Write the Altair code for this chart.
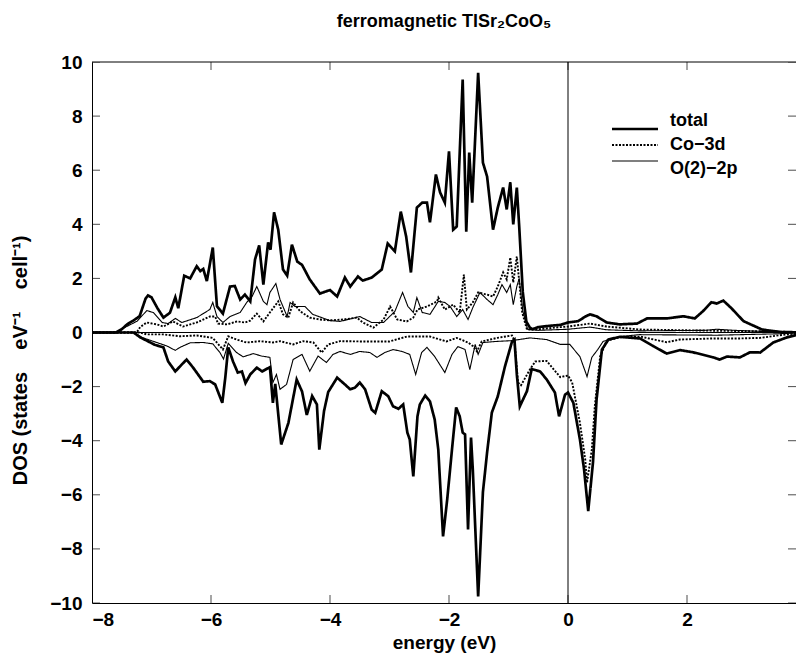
import altair as alt
import pandas as pd

# ---------------- data ----------------
total_up_e = [-8.0, -7.6, -7.5, -7.41, -7.3, -7.2, -7.1, -7.06, -7.0, -6.9, -6.8, -6.69, -6.6, -6.55, -6.45,
              -6.35, -6.24, -6.18, -6.13, -6.07, -5.97, -5.9, -5.8, -5.68, -5.6, -5.51, -5.43, -5.34, -5.26,
              -5.19, -5.12, -5.04, -5.0, -4.94, -4.87, -4.79, -4.72, -4.64, -4.55, -4.47, -4.34, -4.17, -4.0,
              -3.88, -3.75, -3.66, -3.53, -3.45, -3.3, -3.13, -3.03, -2.91, -2.81, -2.72, -2.64, -2.54, -2.45,
              -2.37, -2.32, -2.22, -2.15, -2.07, -2.0, -1.93, -1.87, -1.77, -1.71, -1.66, -1.61, -1.51, -1.43,
              -1.36, -1.26, -1.18, -1.09, -1.03, -0.97, -0.92, -0.86, -0.82, -0.76, -0.7, -0.64, -0.6, -0.5,
              -0.3, -0.13, 0.0, 0.17, 0.3, 0.37, 0.48, 0.65, 0.87, 1.16, 1.33, 1.66, 1.94, 2.13, 2.27, 2.41,
              2.5, 2.61, 2.75, 2.95, 3.26, 3.56, 4.0]
total_up_d = [0.0, 0.0, 0.12, 0.3, 0.45, 0.6, 1.25, 1.37, 1.3, 0.9, 0.55, 0.73, 1.3, 0.9, 2.1,
              2.0, 2.45, 2.27, 2.35, 1.9, 3.14, 0.97, 0.7, 1.7, 1.72, 1.22, 1.4, 1.15, 2.7,
              3.22, 1.77, 3.33, 3.06, 4.44, 3.8, 2.33, 2.1, 3.25, 2.62, 2.5, 1.96, 1.44, 1.57,
              1.33, 2.03, 1.7, 2.07, 1.92, 2.03, 2.33, 3.29, 3.0, 4.47, 3.55, 2.22, 4.62, 4.8,
              4.8, 4.07, 5.84, 5.18, 4.8, 6.7, 3.8, 3.92, 9.35, 3.73, 6.65, 4.8, 9.6, 6.28,
              5.77, 3.8, 4.62, 5.36, 4.55, 5.55, 4.0, 5.36, 3.92, 1.5, 0.4, 0.18, 0.12, 0.2,
              0.25, 0.28, 0.37, 0.42, 0.6, 0.67, 0.6, 0.37, 0.3, 0.33, 0.52, 0.52, 0.6, 0.52, 0.79, 1.12,
              1.07, 1.18, 0.89, 0.42, 0.11, 0.02, 0.0]

total_dn_e = [-8.0, -7.3, -7.19, -7.08, -6.95, -6.8, -6.72, -6.6, -6.49, -6.41, -6.3, -6.13, -6.02, -5.93,
              -5.81, -5.76, -5.71, -5.63, -5.55, -5.48, -5.42, -5.34, -5.23, -5.14, -5.01, -4.96, -4.92,
              -4.82, -4.7, -4.56, -4.47, -4.39, -4.3, -4.22, -4.18, -4.1, -4.03, -3.88, -3.75, -3.66, -3.58,
              -3.5, -3.41, -3.3, -3.24, -3.13, -3.02, -2.94, -2.85, -2.77, -2.7, -2.66, -2.6, -2.53, -2.49,
              -2.4, -2.32, -2.24, -2.18, -2.1, -2.03, -1.95, -1.88, -1.82, -1.77, -1.73, -1.68, -1.63, -1.6,
              -1.51, -1.43, -1.36, -1.28, -1.18, -1.06, -0.94, -0.9, -0.86, -0.81, -0.69, -0.61, -0.47,
              -0.36, -0.22, -0.15, -0.05, 0.0, 0.09, 0.2, 0.27, 0.34, 0.42, 0.48, 0.57, 0.68, 0.87, 1.21,
              1.43, 1.66, 1.88, 2.1, 2.44, 2.55, 2.67, 2.89, 3.06, 3.23, 3.45, 3.68, 4.0]
total_dn_d = [0.0, 0.0, -0.18, -0.3, -0.45, -0.55, -1.07, -1.44, -1.18, -1.0, -1.3, -1.82, -1.8, -1.92,
              -2.6, -1.67, -0.55, -1.07, -1.48, -1.44, -1.87, -1.55, -1.3, -1.44, -1.28, -2.6, -1.9,
              -4.14, -3.35, -1.74, -2.18, -3.05, -2.35, -2.66, -4.33, -2.9, -2.2, -1.67, -1.92, -2.1, -2.04,
              -1.85, -2.1, -2.85, -2.97, -2.17, -2.36, -2.73, -2.82, -2.66, -3.7, -3.95, -5.32, -3.1, -2.66,
              -2.33, -2.55, -3.22, -4.33, -7.54, -6.17, -4.33, -2.77, -3.1, -3.7, -3.77, -7.28, -3.88, -5.06,
              -9.76, -5.9, -4.44, -2.96, -2.36, -1.26, -0.33, -0.26, -1.55, -2.73, -2.17, -1.35, -1.44,
              -1.73, -2.22, -3.1, -2.3, -2.22, -2.6, -3.95, -5.06, -6.6, -4.8, -2.48, -0.63, -0.26, -0.16, -0.22,
              -0.5, -0.78, -0.65, -0.73, -0.92, -1.0, -0.89, -0.92, -0.73, -0.74, -0.37, -0.18, 0.0]

co_up_e = [-8.0, -7.25, -7.19, -7.08, -6.91, -6.8, -6.64, -6.47, -6.24, -6.02, -5.93, -5.88, -5.73, -5.56,
           -5.43, -5.34, -5.23, -5.12, -5.01, -4.87, -4.79, -4.7, -4.62, -4.5, -4.34, -4.17, -4.0, -3.78,
           -3.55, -3.45, -3.27, -3.1, -2.99, -2.87, -2.71, -2.6, -2.53, -2.37, -2.2, -2.18, -2.07, -1.93,
           -1.82, -1.75, -1.7, -1.6, -1.51, -1.36, -1.26, -1.18, -1.09, -1.03, -0.97, -0.92, -0.86, -0.77,
           -0.69, -0.5, -0.13, 0.0, 0.37, 0.65, 1.21, 2.33, 3.45, 4.0]
co_up_d = [0.0, 0.0, 0.2, 0.37, 0.3, 0.22, 0.41, 0.22, 0.37, 0.59, 0.59, 0.33, 0.3, 0.41,
           0.37, 0.44, 0.7, 0.41, 0.74, 1.15, 0.67, 0.55, 1.11, 0.78, 0.55, 0.48, 0.45, 0.48,
           0.55, 0.37, 0.18, 0.48, 0.96, 0.48, 0.41, 0.55, 0.85, 0.96, 1.15, 1.29, 0.85, 1.03,
           0.74, 2.14, 0.85, 1.11, 1.48, 1.4, 1.33, 1.7, 2.22, 1.96, 2.77, 1.85, 2.81, 0.74,
           0.11, 0.12, 0.2, 0.22, 0.33, 0.22, 0.11, 0.07, 0.04, 0.0]

co_dn_e = [-8.0, -7.2, -7.08, -6.8, -6.52, -6.24, -5.97, -5.8, -5.71, -5.57, -5.4, -5.18, -4.96, -4.84,
           -4.62, -4.45, -4.28, -4.14, -4.03, -3.83, -3.5, -3.0, -2.71, -2.32, -2.04, -1.87, -1.68, -1.6,
           -1.53, -1.45, -1.19, -0.94, -0.9, -0.84, -0.79, -0.64, -0.55, -0.36, -0.13, 0.0, 0.07, 0.2,
           0.29, 0.32, 0.4, 0.45, 0.54, 0.65, 0.87, 1.21, 1.66, 1.88, 2.44, 2.89, 3.23, 3.56, 4.0]
co_dn_d = [0.0, 0.0, -0.07, -0.07, -0.14, -0.11, -0.2, -0.63, -0.14, -0.26, -0.37, -0.32, -0.37, -0.32,
           -0.44, -0.32, -0.37, -0.74, -0.44, -0.32, -0.33, -0.33, -0.15, -0.15, -0.33, -0.2, -0.37, -0.5,
           -0.7, -0.33, -0.2, -0.11, -0.3, -1.85, -1.95, -1.37, -1.07, -1.05, -1.65, -1.59, -1.85, -3.33,
           -4.7, -5.55, -4.33, -2.73, -0.89, -0.3, -0.18, -0.15, -0.36, -0.26, -0.22, -0.22, -0.2, -0.1, 0.0]

o_up_e = [-8.0, -7.6, -7.41, -7.24, -7.08, -6.97, -6.82, -6.72, -6.6, -6.49, -6.24, -6.02, -5.97, -5.9,
          -5.8, -5.68, -5.51, -5.4, -5.31, -5.23, -5.12, -5.06, -5.01, -4.91, -4.84, -4.72, -4.67, -4.59,
          -4.42, -4.29, -4.0, -3.83, -3.5, -3.3, -3.1, -2.91, -2.78, -2.69, -2.6, -2.54, -2.45, -2.32,
          -2.18, -2.07, -1.98, -1.87, -1.77, -1.68, -1.6, -1.48, -1.36, -1.26, -1.18, -1.11, -1.03, -0.97,
          -0.92, -0.86, -0.82, -0.76, -0.68, -0.5, 0.0, 0.37, 0.65, 1.2, 2.3, 2.5, 2.8, 3.5, 4.0]
o_up_d = [0.0, 0.0, 0.23, 0.42, 0.81, 0.74, 0.37, 0.33, 0.52, 0.37, 0.55, 0.85, 1.11, 0.59,
          0.37, 0.59, 0.74, 1.11, 1.33, 1.7, 1.15, 1.03, 1.48, 1.81, 1.22, 0.59, 1.11, 0.96,
          0.96, 0.67, 0.44, 0.41, 0.59, 0.37, 0.37, 0.78, 1.48, 0.96, 0.74, 1.29, 0.74, 0.67,
          1.15, 1.11, 0.96, 0.59, 0.85, 0.48, 0.92, 1.48, 1.22, 1.03, 1.4, 1.77, 1.48, 1.77,
          1.03, 1.7, 2.0, 0.8, 0.12, 0.08, 0.12, 0.2, 0.1, 0.06, 0.08, 0.12, 0.08, 0.02, 0.0]

o_dn_e = [-8.0, -7.3, -7.14, -6.91, -6.74, -6.6, -6.52, -6.35, -6.13, -5.97, -5.85, -5.79, -5.71, -5.57,
          -5.46, -5.29, -5.15, -5.01, -4.96, -4.9, -4.84, -4.73, -4.62, -4.47, -4.34, -4.2, -4.06, -3.95,
          -3.83, -3.66, -3.5, -3.33, -3.21, -3.08, -2.94, -2.79, -2.66, -2.56, -2.46, -2.37, -2.24, -2.07,
          -1.95, -1.85, -1.73, -1.65, -1.56, -1.51, -1.43, -1.2, -0.94, -0.64, -0.36, -0.13, 0.03, 0.2,
          0.32, 0.4, 0.5, 0.59, 0.87, 1.2, 2.5, 3.5, 4.0]
o_dn_d = [0.0, 0.0, -0.2, -0.37, -0.5, -0.66, -0.55, -0.38, -0.37, -0.42, -0.74, -0.98, -0.4, -0.74,
          -0.9, -0.78, -0.87, -0.92, -1.85, -1.55, -2.1, -1.92, -1.0, -0.81, -1.43, -0.87, -1.11, -0.81,
          -0.7, -0.81, -0.7, -0.74, -0.92, -0.74, -0.63, -0.7, -0.81, -1.55, -0.74, -0.55, -0.89, -1.48,
          -0.81, -0.52, -0.63, -1.37, -0.44, -0.81, -0.37, -0.33, -0.3, -0.2, -0.26, -0.44, -0.44, -0.89,
          -1.63, -0.92, -0.63, -0.33, -0.15, -0.08, -0.1, -0.05, 0.0]

series_names = ["total", "Co\u22123d", "O(2)\u22122p"]
x_ticks = [-8, -6, -4, -2, 0, 2]
y_ticks = [-10, -8, -6, -4, -2, 0, 2, 4, 6, 8, 10]

curves = [
    (series_names[0], "up", total_up_e, total_up_d),
    (series_names[0], "down", total_dn_e, total_dn_d),
    (series_names[1], "up", co_up_e, co_up_d),
    (series_names[1], "down", co_dn_e, co_dn_d),
    (series_names[2], "up", o_up_e, o_up_d),
    (series_names[2], "down", o_dn_e, o_dn_d),
]
rows = []
for name, spin, es, ds in curves:
    for e, d in zip(es, ds):
        rows.append({"energy": e, "dos": d, "series": name, "key": name + "_" + spin})
df = pd.DataFrame(rows)
leg_df = pd.DataFrame({"series": series_names})

# ---------------- chart ----------------
# the reference is cropped at the right: keep its scale (59.5 px / eV) and let the window cut it
W, H = 704, 541
X_END = -8 + W / 59.5
FONT = "Liberation Sans"
FS = 19
NB = "\u00a0" * 4

xscale = alt.Scale(domain=[-8, X_END], nice=False, zero=False)
yscale = alt.Scale(domain=[-10, 10], nice=False, zero=False)
dash_scale = alt.Scale(domain=series_names, range=[[1, 0], [2, 1.5], [1, 0]])
width_scale = alt.Scale(domain=series_names, range=[2.7, 1.1, 1.9])

lines = alt.Chart(df).mark_line(color="black", clip=True).encode(
    x=alt.X("energy:Q", scale=xscale,
            axis=alt.Axis(values=x_ticks, title="energy (eV)", format="d")),
    y=alt.Y("dos:Q", scale=yscale,
            axis=alt.Axis(values=y_ticks,
                          title="DOS (states" + NB + "eV\u207b\u00b9" + NB + "cell\u207b\u00b9)",
                          titleY=298, titleFontSize=20, format="d")),
    strokeDash=alt.StrokeDash("series:N", scale=dash_scale, legend=None),
    strokeWidth=alt.StrokeWidth("series:N", scale=width_scale, legend=None),
    detail="key:N",
)

zero_v = alt.Chart(pd.DataFrame({"x": [0]})).mark_rule(color="black", strokeWidth=1).encode(
    x=alt.X("x:Q", scale=xscale))
zero_h = alt.Chart(pd.DataFrame({"y": [0]})).mark_rule(color="black", strokeWidth=1).encode(
    y=alt.Y("y:Q", scale=yscale, axis=None))
top_border = alt.Chart(pd.DataFrame({"y": [0]})).mark_rule(color="black", strokeWidth=1).encode(
    x=alt.value(0), x2=alt.value(W), y=alt.value(0))

xt = pd.DataFrame({"t": x_ticks})
yt = pd.DataFrame({"t": y_ticks})
tk = dict(color="black", thickness=1, size=8, clip=True)
tick_b = alt.Chart(xt).mark_tick(**tk).encode(x=alt.X("t:Q", scale=xscale), y=alt.value(H - 4))
tick_t = alt.Chart(xt).mark_tick(**tk).encode(x=alt.X("t:Q", scale=xscale), y=alt.value(4))
tick_l = alt.Chart(yt).mark_tick(**tk).encode(y=alt.Y("t:Q", scale=yscale, axis=None), x=alt.value(4))
tick_r = alt.Chart(yt).mark_tick(**tk).encode(y=alt.Y("t:Q", scale=yscale, axis=None), x=alt.value(W - 4))

# legend (inside the plot, top right), drawn from the series names
leg_y = alt.Y("series:N", sort=series_names,
              scale=alt.Scale(domain=series_names, range=[59, 107], padding=0), axis=None)
leg_sym = alt.Chart(leg_df).mark_rule(color="black").encode(
    x=alt.value(520), x2=alt.value(566), y=leg_y,
    strokeDash=alt.StrokeDash("series:N", scale=dash_scale, legend=None),
    strokeWidth=alt.StrokeWidth("series:N", scale=width_scale, legend=None),
)
leg_txt = alt.Chart(leg_df).mark_text(align="left", baseline="middle", font=FONT, fontSize=18,
                                      fontWeight="bold", color="black").encode(
    x=alt.value(578), y=leg_y, text="series:N")

chart = alt.layer(zero_v, zero_h, lines, top_border, tick_b, tick_t, tick_l, tick_r,
                  leg_sym, leg_txt).resolve_scale(y="independent").properties(
    width=W, height=H,
    title=alt.TitleParams("ferromagnetic TlSr\u2082CoO\u2085", font=FONT, fontSize=18,
                          fontWeight="bold", color="black", anchor="middle", frame="group", offset=22),
    autosize=alt.AutoSizeParams(type="none"),
    padding={"left": 84, "top": 54, "right": 0, "bottom": 53},
).configure_view(stroke=None).configure_axis(
    grid=False, ticks=False, domainColor="black", domainWidth=1,
    labelFont=FONT, labelFontSize=FS, labelFontWeight="bold", labelColor="black",
    titleFont=FONT, titleFontSize=FS, titleFontWeight="bold", titleColor="black",
).configure_axisX(labelPadding=7, titlePadding=4).configure_axisY(labelPadding=10, titlePadding=19)

chart.save("out.html", embed_options={"renderer": "svg", "actions": False})
